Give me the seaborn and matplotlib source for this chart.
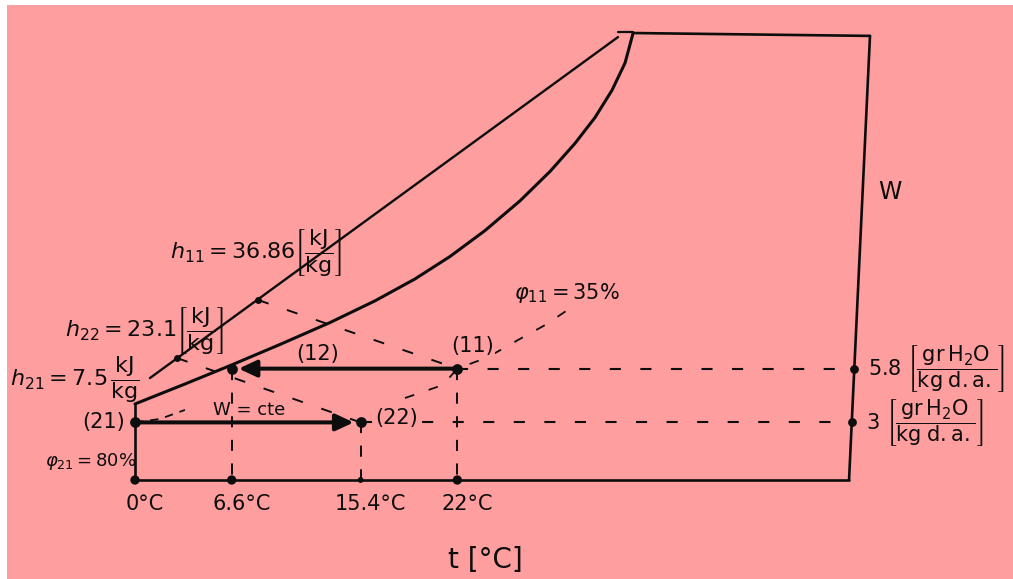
import numpy as np
import matplotlib
matplotlib.use("Agg")
import matplotlib.pyplot as plt
from matplotlib.patches import Rectangle
import seaborn as sns

# ---- data -----------------------------------------------------------------
# state points: t [°C], W [g H2O / kg d.a.]
state_labels = ["(11)", "(12)", "(21)", "(22)"]
state_t = [22.0, 6.6, 0.0, 15.4]
state_w = [5.8, 5.8, 3.0, 3.0]

temp_ticks = [0.0, 6.6, 15.4, 22.0]
temp_tick_labels = ["0°C", "6.6°C", "15.4°C", "22°C"]

w_ticks = [5.8, 3.0]
w_tick_labels = ["5.8", "3"]

h_11, h_22, h_21 = 36.86, 23.1, 7.5
phi_11, phi_21 = 35, 80

# saturation curve (phi = 100 %)
sat_t = [0.0, 3.41, 6.62, 9.90, 13.31, 16.38, 19.11, 21.50, 23.89, 26.28,
         28.33, 30.03, 31.40, 32.56, 33.45, 34.0]
sat_w = [3.96, 5.0, 6.0, 7.06, 8.20, 9.33, 10.47, 11.64, 12.99, 14.54,
         16.07, 17.53, 18.88, 20.30, 21.72, 23.28]

# diagonal enthalpy scale and the marks of h11 / h22 on it
hscale_t = [1.02, 32.97]
hscale_w = [5.31, 23.07]
hmark_t = [8.40, 2.87]
hmark_w = [9.375, 6.35]

# chart frame
top_t, top_w = [34.0, 50.17], [23.28, 23.13]
stub_t, stub_w = [32.97, 34.0], [23.33, 23.33]
right_t, right_w = [50.17, 48.74], [23.13, 0.0]
base_t, base_w = [0.0, 48.74], [0.0, 0.0]
left_t, left_w = [0.0, 0.0], [0.0, 3.96]

# relative humidity curves through (11) and (21)
rh11_t = [18.43, 21.02, 22.0, 24.1, 26.14, 27.99, 30.03]
rh11_w = [4.27, 4.95, 5.8, 6.4, 7.29, 8.07, 9.11]
rh21_t = [0.0, 1.71, 3.41]
rh21_w = [3.0, 3.18, 3.65]

# ---- style ----------------------------------------------------------------
BG = "#FF9E9E"
INK = "#0d0d0d"
sns.set_style("white")
plt.rcParams["font.family"] = ["DejaVu Sans"]
plt.rcParams["mathtext.fontset"] = "dejavusans"
plt.rcParams["lines.scale_dashes"] = False

fig = plt.figure(figsize=(10.13, 5.79), dpi=100, facecolor=BG)
ax = fig.add_axes([0, 0, 1, 1])
ax.set_facecolor("none")
ax.set_xlim(-135 / 14.65, (1013 - 135) / 14.65)
ax.set_ylim((480 - 579) / 19.2, 480 / 19.2)
ax.axis("off")

# paper edge
fig.patches.append(Rectangle((0, 1 - 5 / 579), 1, 5 / 579, transform=fig.transFigure,
                             facecolor="white", edgecolor="none", zorder=0))
fig.patches.append(Rectangle((0, 0), 7 / 1013, 1, transform=fig.transFigure,
                             facecolor="white", edgecolor="none", zorder=0))

DASH = (0, (8, 14))
VDASH = (0, (8, 9))


def line(t, w, lw=1.8, ls="-", z=2):
    sns.lineplot(x=t, y=w, ax=ax, sort=False, estimator=None, color=INK,
                 linewidth=lw, linestyle=ls, zorder=z,
                 solid_capstyle="round", solid_joinstyle="round",
                 dash_capstyle="butt")


def right_edge_t(w):
    return float(np.interp(w, right_w[::-1], right_t[::-1]))


# dashed construction lines
for w0, t0 in zip(w_ticks, [state_t[0], state_t[3]]):
    line([t0, right_edge_t(w0)], [w0, w0], lw=1.5, ls=DASH, z=1)
for t0, w0 in zip([state_t[0], state_t[1], state_t[3]], [state_w[0], state_w[1], state_w[3]]):
    line([t0, t0], [w0, 0.0], lw=1.4, ls=VDASH, z=1)
line([hmark_t[0], state_t[0]], [hmark_w[0], state_w[0]], lw=1.4, ls=DASH, z=1)
line([hmark_t[1], state_t[3]], [hmark_w[1], state_w[3]], lw=1.4, ls=DASH, z=1)
line(rh11_t, rh11_w, lw=1.3, ls=(0, (7, 11)), z=1)
line(rh21_t, rh21_w, lw=1.3, ls=(0, (6, 5)), z=1)

# frame, saturation curve and enthalpy scale
line(sat_t, sat_w, lw=2.2)
line(hscale_t, hscale_w, lw=1.7)
line(top_t, top_w, lw=1.9)
line(stub_t, stub_w, lw=1.6)
line(right_t, right_w, lw=1.9)
line(base_t, base_w, lw=1.9)
line(left_t, left_w, lw=1.9)

# processes 11 -> 12 and 21 -> 22
for (ta, wa), (tb, wb) in [((state_t[0], state_w[0]), (state_t[1], state_w[1])),
                           ((state_t[2], state_w[2]), (state_t[3], state_w[3]))]:
    ax.annotate("", xy=(tb, wb), xytext=(ta, wa), zorder=4,
                arrowprops=dict(arrowstyle="-|>,head_length=0.9,head_width=0.42",
                                mutation_scale=12, lw=2.9, color=INK,
                                shrinkA=0, shrinkB=5))

# points
sns.scatterplot(x=state_t, y=state_w, ax=ax, s=60, color=INK, linewidth=0, zorder=5)
sns.scatterplot(x=temp_ticks, y=[0.0] * len(temp_ticks), ax=ax, s=[45, 45, 18, 45],
                color=INK, linewidth=0, zorder=5, legend=False)
sns.scatterplot(x=[right_edge_t(w) for w in w_ticks], y=w_ticks, ax=ax, s=40,
                color=INK, linewidth=0, zorder=5)
sns.scatterplot(x=hmark_t, y=hmark_w, ax=ax, s=25, color=INK, linewidth=0, zorder=5)

# ---- text -----------------------------------------------------------------
txt = dict(color=INK, zorder=6)
box = dict(facecolor=BG, edgecolor="none", pad=1)

offsets = {"(11)": (15, 23), "(12)": (86, 15), "(21)": (-31, 0), "(22)": (36, 4)}
for lab, t0, w0 in zip(state_labels, state_t, state_w):
    ax.annotate(lab, (t0, w0), xytext=offsets[lab], textcoords="offset pixels",
                ha="center", va="center", fontsize=15, bbox=box, **txt)

for t0, lab in zip(temp_ticks, temp_tick_labels):
    ax.annotate(lab, (t0, 0.0), xytext=(10, -24), textcoords="offset pixels",
                ha="center", va="center", fontsize=15, **txt)
ax.text(23.9, -4.17, "t [°C]", ha="center", va="center", fontsize=20, **txt)

frac_w = r"\left[\dfrac{\mathrm{gr\,H_2O}}{\mathrm{kg\;d.a.}}\right]"
for w0, lab in zip(w_ticks, w_tick_labels):
    ax.annotate(rf"${lab}\ {frac_w}$", (right_edge_t(w0), w0), xytext=(14, 0),
                textcoords="offset pixels", ha="left", va="center", fontsize=15, **txt)
ax.text(51.5, 15.0, "W", ha="center", va="center", fontsize=17, **txt)

frac_h = r"\left[\dfrac{\mathrm{kJ}}{\mathrm{kg}}\right]"
ax.text(2.39, 11.875, rf"$h_{{11}} = {h_11}{frac_h}$", ha="left", va="center",
        fontsize=16, **txt)
ax.text(-4.78, 7.81, rf"$h_{{22}} = {h_22}{frac_h}$", ha="left", va="center",
        fontsize=16, **txt)
ax.text(-8.53, 5.21, rf"$h_{{21}} = {h_21}\,\dfrac{{\mathrm{{kJ}}}}{{\mathrm{{kg}}}}$",
        ha="left", va="center", fontsize=16, **txt)

ax.text(29.5, 9.74, rf"$\varphi_{{11}} = {phi_11}\%$", ha="center", va="center",
        fontsize=15, **txt)
ax.text(-3.0, 0.94, rf"$\varphi_{{21}} = {phi_21}\%$", ha="center", va="center",
        fontsize=13, **txt)
ax.text(7.78, 3.65, "W = cte", ha="center", va="center", fontsize=13, **txt)

fig.savefig("out.png", dpi=100, facecolor=BG)
